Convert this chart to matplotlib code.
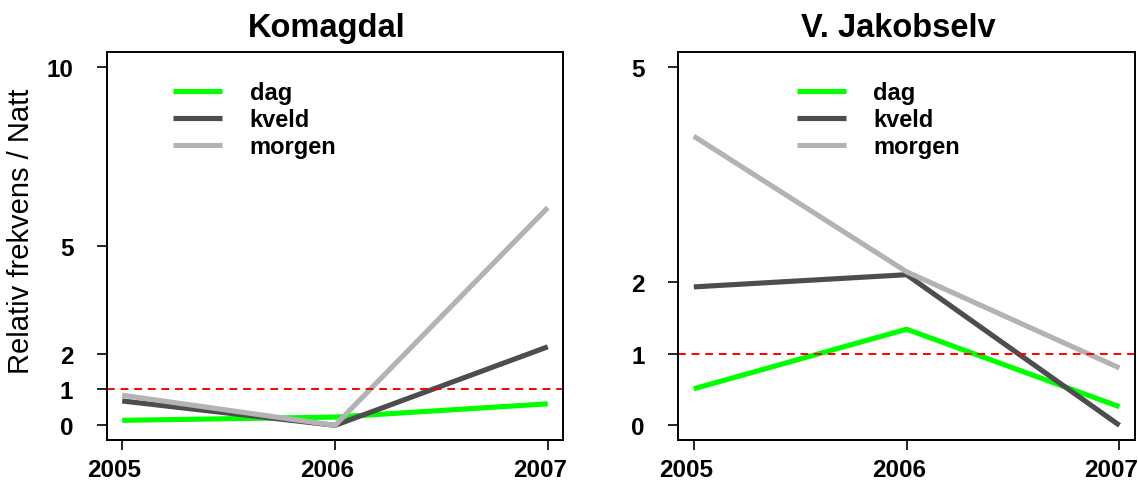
import matplotlib
matplotlib.use("Agg")
import matplotlib.pyplot as plt
from matplotlib.transforms import ScaledTranslation

plt.rcParams['font.family'] = ['Liberation Sans', 'DejaVu Sans']

years = [2005, 2006, 2007]
series_names = ["dag", "kveld", "morgen"]
series_colors = ["#00FF00", "#4D4D4D", "#B3B3B3"]

komagdal_dag = [0.14, 0.23, 0.60]
komagdal_kveld = [0.68, 0.0, 2.19]
komagdal_morgen = [0.84, 0.0, 6.07]

jakobselv_dag = [0.51, 1.34, 0.26]
jakobselv_kveld = [1.93, 2.10, 0.0]
jakobselv_morgen = [4.03, 2.14, 0.80]

komagdal_yticks = [0, 1, 2, 5, 10]
jakobselv_yticks = [0, 1, 2, 5]

W, H = 1138, 481
fig = plt.figure(figsize=(W / 100, H / 100), dpi=100)

def px_axes(left, top, right, bottom):
    return fig.add_axes([left / W, 1 - bottom / H, (right - left) / W, (bottom - top) / H])

panels = [
    dict(title="Komagdal", data=[komagdal_dag, komagdal_kveld, komagdal_morgen],
         yticks=komagdal_yticks, ylim=(-0.4, 10.4), box=(106.7, 53.3, 563.3, 440.7),
         leg_x=0.145),
    dict(title="V. Jakobselv", data=[jakobselv_dag, jakobselv_kveld, jakobselv_morgen],
         yticks=jakobselv_yticks, ylim=(-0.2, 5.2), box=(678.3, 53.3, 1135.0, 440.7),
         leg_x=0.259),
]

shift = ScaledTranslation(-8 / 100, 0, fig.dpi_scale_trans)

for p in panels:
    ax = px_axes(*p["box"])
    for vals, name, col in zip(p["data"], series_names, series_colors):
        ax.plot(years, vals, color=col, lw=3.7, label=name, solid_capstyle='butt')
    ax.axhline(1, color="red", lw=1.4, ls=(0, (4, 3)))
    ax.set_xlim(2004.927, 2007.073)
    ax.set_ylim(*p["ylim"])
    ax.set_xticks(years)
    ax.set_xticklabels([str(y) for y in years], fontsize=17.5, fontweight='bold')
    ax.set_yticks(p["yticks"])
    ax.set_yticklabels([str(t) for t in p["yticks"]], fontsize=17.5, fontweight='bold')
    ax.tick_params(axis='x', length=7, width=1.2, pad=6)
    ax.tick_params(axis='y', length=7, width=1.2, pad=17)
    for lab in ax.get_xticklabels():
        lab.set_transform(lab.get_transform() + shift)
    for s in ax.spines.values():
        s.set_linewidth(1.4)
    ax.set_title(p["title"], fontsize=23.5, fontweight='bold', pad=12)
    ax.title.set_transform(ax.title.get_transform() + shift)
    ax.legend(loc='upper left', bbox_to_anchor=(p["leg_x"], 0.925), frameon=False,
              prop=dict(size=17, weight='bold'), handlelength=2.1, handletextpad=1.15,
              labelspacing=0.17, borderpad=0, borderaxespad=0)

fig.text(21 / W, 1 - 231 / H, "Relativ frekvens / Natt", rotation=90,
         ha='center', va='center', fontsize=21)

fig.savefig("out.png", dpi=100)
